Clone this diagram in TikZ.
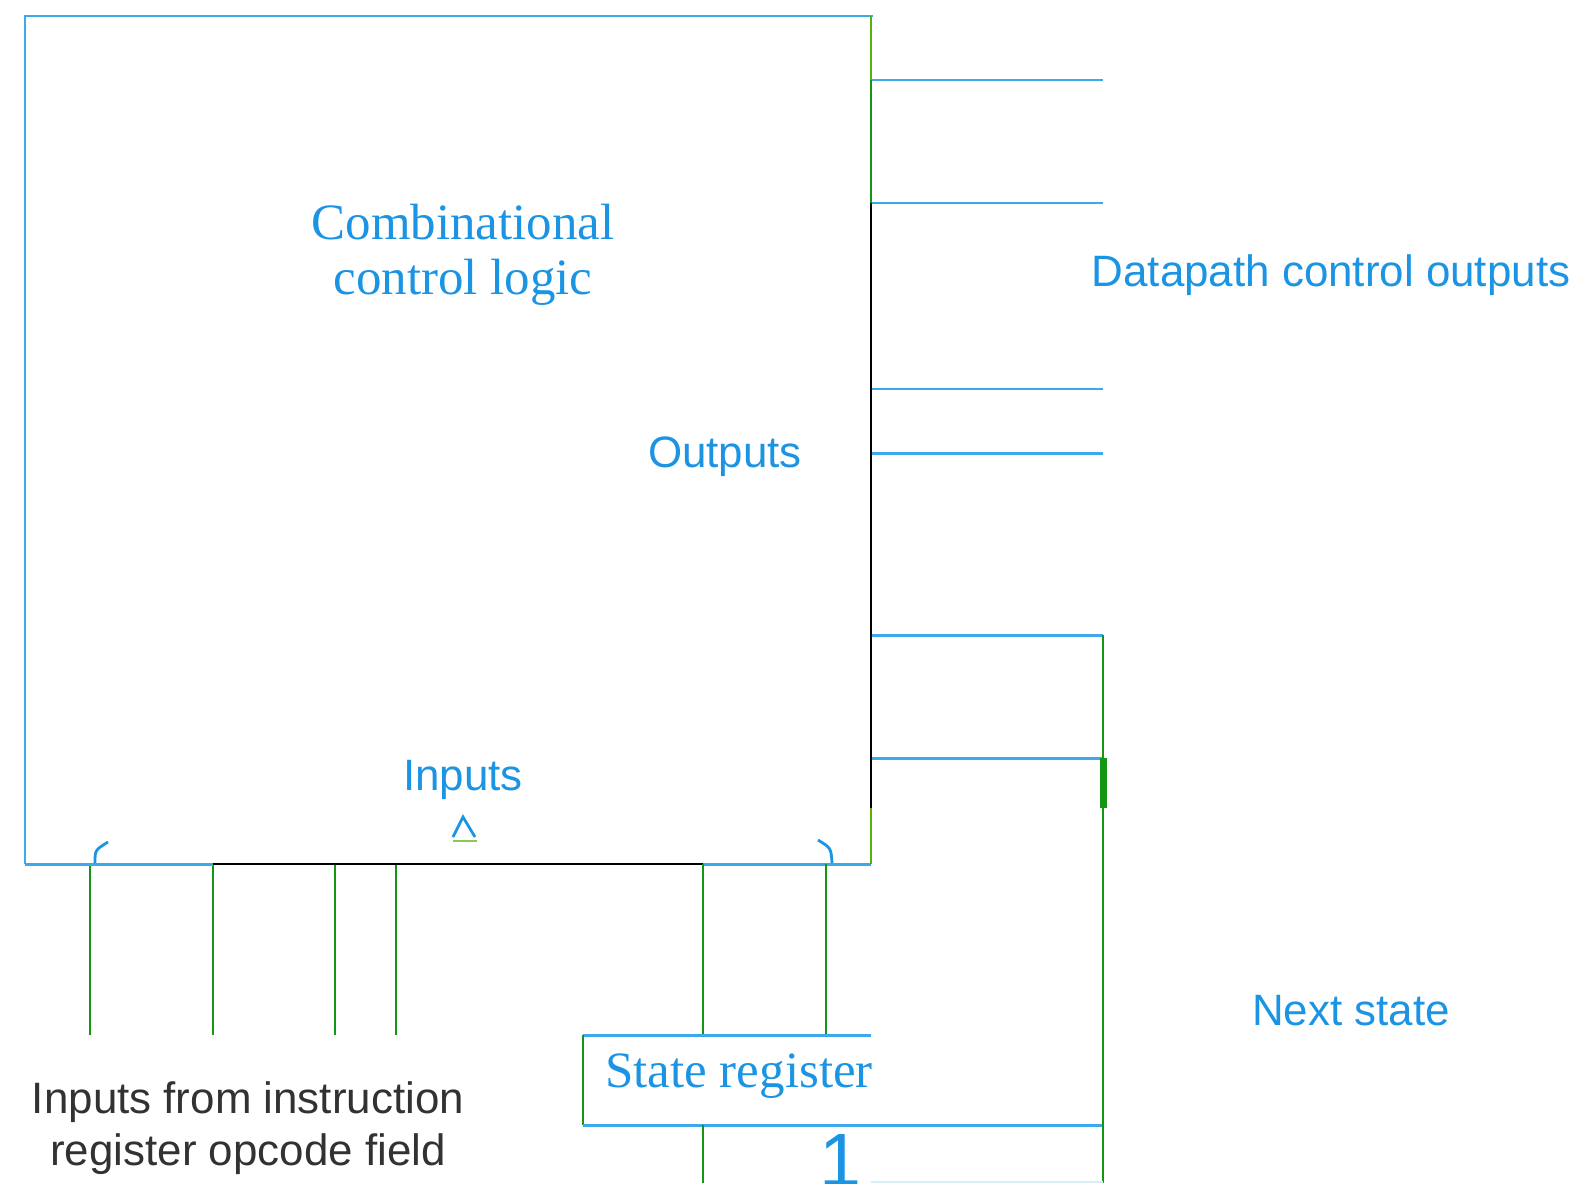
\documentclass[tikz,border=0pt]{standalone}
\usepackage{fontspec}
\setmainfont{Liberation Serif}
\setsansfont{Liberation Sans}
\usepackage{tikz}
\usetikzlibrary{positioning,calc}
\definecolor{wireblue}{RGB}{62,168,236}
\definecolor{textblue}{RGB}{28,148,228}
\definecolor{wiregreen}{RGB}{20,150,20}
\definecolor{litegreen}{RGB}{90,175,10}
\definecolor{labgray}{RGB}{50,50,50}

\begin{document}
\begin{tikzpicture}[x=0.02cm, y=-0.02cm,
  bwire/.style={draw=wireblue, line width=1.7pt},
  gwire/.style={draw=wiregreen, line width=1.6pt},
  lgwire/.style={draw=litegreen, line width=1.6pt},
  kwire/.style={draw=black, line width=1.6pt},
  tick/.style={draw=textblue, line width=1.6pt},
  serlab/.style={font=\fontsize{29}{31}\selectfont, text=textblue, align=center, inner sep=0pt},
  lab/.style={font=\sffamily\fontsize{25}{29.6}\selectfont, text=textblue, align=center, inner sep=0pt}
]
\useasboundingbox (0,0) rectangle (1588,1183);

\coordinate (nw) at (25,16);
\coordinate (ne) at (871,16);
\coordinate (sw) at (25,864);
\coordinate (se) at (871,864);
\coordinate (k1) at (871,808);
\coordinate (st1) at (703,864);
\coordinate (st2) at (826,864);
\coordinate (rnw) at (583,1035);
\coordinate (rne) at (871,1035);
\coordinate (rsw) at (583,1125);
\coordinate (rse) at (1103,1125);
\coordinate (rt1) at (703,1035);
\coordinate (rt2) at (826,1035);
\coordinate (rb1) at (703,1125);
\coordinate (rb1x) at (703,1183);
\coordinate (fbx) at (1103,1183);
\coordinate (thk) at (1103,808);

\draw[bwire] (sw) -- (nw) -- ($(ne)+(2,0)$);
\foreach \y [count=\i] in {80,203,389,453,635,758} {
  \coordinate (o\i) at (871,\y);
  \coordinate (p\i) at (1103,\y);
  \draw[bwire] (o\i) -- (p\i);
}
\foreach \x [count=\i] in {90,213,335,396} {
  \coordinate (in\i) at (\x,864);
  \coordinate (pin\i) at (\x,1035);
  \draw[gwire] (in\i) -- (pin\i);
}
\draw[bwire] (sw) -- (in2);
\draw[kwire] (in2) -- (st1);
\draw[bwire] (st1) -- (se);

\draw[lgwire] (ne) -- (o1);
\draw[gwire] (o1) -- (o2);
\draw[kwire] (o2) -- (k1);
\draw[lgwire] (k1) -- (se);

\draw[gwire] (st1) -- (rt1);
\draw[gwire] (st2) -- (rt2);
\draw[bwire] (rnw) -- (rne);
\draw[gwire] (rnw) -- (rsw);
\draw[bwire] (rsw) -- (rse);
\draw[gwire] (rb1) -- (rb1x);
\draw[gwire] (p5) -- (fbx);
\draw[wiregreen, line width=4pt] (p6) -- (thk);
\draw[draw=wireblue!20, line width=1.2pt] (871,1182) -- (1103,1182);

\draw[tick] (95,863) .. controls (95,850) .. (108,842);
\draw[tick] (818,840) .. controls (831,848) .. (832,863);
\draw[tick] (453,837) -- (463,817) -- (475,837);
\draw[litegreen!70, line width=0.8pt] (453,841) -- (477,841);

\node[serlab] (logic) at (463,255) {Combinational\\control logic};
\node[serlab] (sreg) at (739,1076) {State register};
\node[lab] (outs) at (725,457) {Outputs};
\node[lab] (ins) at (463,780) {Inputs};
\node[lab] (dpath) at (1331,275) {Datapath control outputs};
\node[lab] (next) at (1351,1011) {Next state};
\node[lab, text=labgray] (irin) at (248,1128) {Inputs from instruction\\register opcode field};
\node[lab, font=\sffamily\fontsize{43}{43}\selectfont, anchor=north] (one) at (840,1134) {1};
\end{tikzpicture}
\end{document}
